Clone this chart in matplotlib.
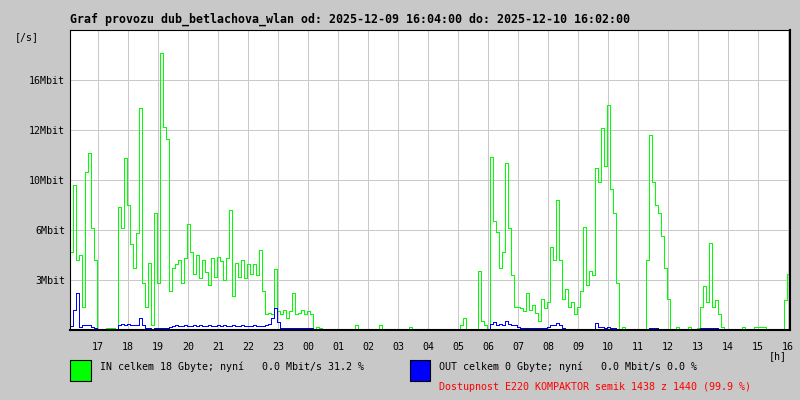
import numpy as np
import matplotlib.pyplot as plt
from matplotlib.patches import Rectangle

# prumer za 6 minut od 16:04, Mbit/s (jeden radek = 1 hodina)
in_mbit = [
    5.0, 9.3, 4.5, 4.8, 1.5, 10.1, 11.3, 6.5, 4.5, 0.0,
    0.0, 0.0, 0.1, 0.1, 0.1, 0.0, 7.9, 6.5, 11.0, 8.0,
    5.5, 4.0, 6.2, 14.2, 3.0, 1.5, 4.3, 0.3, 7.5, 3.0,
    17.7, 13.0, 12.2, 2.5, 4.0, 4.2, 4.5, 3.0, 4.6, 6.8,
    5.0, 3.6, 4.8, 3.3, 4.5, 3.7, 2.9, 4.6, 3.4, 4.7,
    4.4, 3.2, 4.6, 7.7, 2.2, 4.3, 3.4, 4.5, 3.3, 4.2,
    3.6, 4.2, 3.5, 5.1, 2.5, 1.0, 1.1, 1.0, 3.9, 1.2,
    1.0, 1.3, 0.8, 1.2, 2.4, 1.0, 1.1, 1.3, 1.0, 1.2,
    1.0, 0.0, 0.2, 0.1, 0.0, 0.0, 0.0, 0.0, 0.0, 0.0,
    0.0, 0.0, 0.0, 0.0, 0.0, 0.3, 0.0, 0.0, 0.0, 0.0,
    0.0, 0.0, 0.0, 0.3, 0.0, 0.0, 0.0, 0.0, 0.0, 0.0,
    0.0, 0.0, 0.0, 0.2, 0.0, 0.0, 0.0, 0.0, 0.0, 0.0,
    0.0, 0.0, 0.0, 0.0, 0.0, 0.0, 0.0, 0.0, 0.0, 0.0,
    0.3, 0.8, 0.0, 0.0, 0.0, 0.0, 3.8, 0.6, 0.3, 0.0,
    11.1, 7.0, 6.3, 4.0, 5.0, 10.7, 6.5, 3.5, 1.5, 1.5,
    1.4, 1.2, 2.4, 1.3, 1.6, 1.1, 0.6, 2.0, 1.4, 1.8,
    5.3, 4.5, 8.3, 4.5, 2.0, 2.6, 1.5, 1.8, 1.0, 1.5,
    2.5, 6.6, 2.9, 3.8, 3.5, 10.4, 9.5, 12.9, 10.5, 14.4,
    9.0, 7.5, 3.0, 0.0, 0.2, 0.0, 0.0, 0.0, 0.0, 0.0,
    0.0, 0.0, 4.5, 12.5, 9.5, 8.0, 7.5, 6.0, 4.0, 2.0,
    0.0, 0.0, 0.2, 0.0, 0.0, 0.0, 0.2, 0.0, 0.0, 0.1,
    1.5, 2.8, 1.8, 5.6, 1.5, 1.9, 1.0, 0.2, 0.0, 0.0,
    0.0, 0.0, 0.0, 0.0, 0.2, 0.0, 0.0, 0.0, 0.2, 0.2,
    0.2, 0.2, 0.0, 0.0, 0.0, 0.0, 0.0, 0.0, 1.9, 3.6,
]

out_mbit = [
    0.25, 1.3, 2.4, 0.2, 0.3, 0.35, 0.3, 0.2, 0.1, 0.0,
    0.0, 0.0, 0.0, 0.0, 0.0, 0.0, 0.3, 0.4, 0.3, 0.4,
    0.3, 0.3, 0.3, 0.8, 0.3, 0.1, 0.1, 0.0, 0.1, 0.1,
    0.1, 0.1, 0.1, 0.2, 0.25, 0.3, 0.25, 0.25, 0.3, 0.25,
    0.25, 0.3, 0.25, 0.3, 0.25, 0.25, 0.3, 0.25, 0.25, 0.3,
    0.25, 0.3, 0.25, 0.25, 0.3, 0.25, 0.25, 0.3, 0.25, 0.25,
    0.25, 0.3, 0.25, 0.25, 0.25, 0.3, 0.4, 0.8, 1.4, 0.5,
    0.1, 0.1, 0.1, 0.1, 0.1, 0.1, 0.1, 0.1, 0.1, 0.1,
    0.1, 0.0, 0.0, 0.0, 0.0, 0.0, 0.0, 0.0, 0.0, 0.0,
    0.0, 0.0, 0.0, 0.0, 0.0, 0.0, 0.0, 0.0, 0.0, 0.0,
    0.0, 0.0, 0.0, 0.0, 0.0, 0.0, 0.0, 0.0, 0.0, 0.0,
    0.0, 0.0, 0.0, 0.0, 0.0, 0.0, 0.0, 0.0, 0.0, 0.0,
    0.0, 0.0, 0.0, 0.0, 0.0, 0.0, 0.0, 0.0, 0.0, 0.0,
    0.0, 0.0, 0.0, 0.0, 0.0, 0.0, 0.0, 0.0, 0.0, 0.0,
    0.4, 0.5, 0.3, 0.4, 0.3, 0.6, 0.4, 0.3, 0.3, 0.2,
    0.1, 0.1, 0.1, 0.1, 0.1, 0.1, 0.1, 0.1, 0.1, 0.2,
    0.3, 0.3, 0.45, 0.3, 0.1, 0.0, 0.0, 0.0, 0.0, 0.0,
    0.0, 0.0, 0.0, 0.0, 0.0, 0.45, 0.2, 0.2, 0.1, 0.2,
    0.1, 0.1, 0.0, 0.0, 0.0, 0.0, 0.0, 0.0, 0.0, 0.0,
    0.0, 0.0, 0.0, 0.1, 0.1, 0.1, 0.0, 0.0, 0.0, 0.0,
    0.0, 0.0, 0.0, 0.0, 0.0, 0.0, 0.0, 0.0, 0.0, 0.0,
    0.1, 0.15, 0.1, 0.15, 0.1, 0.1, 0.0, 0.0, 0.0, 0.0,
    0.0, 0.0, 0.0, 0.0, 0.0, 0.0, 0.0, 0.0, 0.0, 0.0,
    0.0, 0.0, 0.0, 0.0, 0.0, 0.0, 0.0, 0.0, 0.0, 0.0,
]

hour_ticks = list(range(17, 41))
hour_labels = [f"{h % 24:02d}" for h in hour_ticks]
ytick_vals = [3.2, 6.4, 9.6, 12.8, 16.0]
ytick_labels = ["3Mbit", "6Mbit", "10Mbit", "12Mbit", "16Mbit"]

title = "Graf provozu dub_betlachova_wlan od: 2025-12-09 16:04:00 do: 2025-12-10 16:02:00"
in_text = "IN celkem 18 Gbyte; nyní   0.0 Mbit/s 31.2 %"
out_text = "OUT celkem 0 Gbyte; nyní   0.0 Mbit/s 0.0 %"
avail_text = "Dostupnost E220 KOMPAKTOR semik 1438 z 1440 (99.9 %)"

bg = "#c8c8c8"
green = "#00ff00"
blue = "#0000ff"
mono = "DejaVu Sans Mono"

start = 16 + 4 / 60
t = start + 0.1 * np.arange(len(in_mbit) + 1)
in_y = np.append(in_mbit, in_mbit[-1])
out_y = np.append(out_mbit, out_mbit[-1])

W, H = 800, 400
fig = plt.figure(figsize=(8, 4), dpi=100, facecolor=bg)
ax = fig.add_axes([70 / W, 70 / H, 720 / W, 300 / H])
ax.set_facecolor("white")

ax.plot(t, in_y, drawstyle="steps-post", color=green, lw=0.6, antialiased=False, zorder=2)
ax.plot(t, out_y, drawstyle="steps-post", color=blue, lw=0.6, antialiased=False, zorder=2.1)

ax.set_xlim(start, start + 24)
ax.set_ylim(0, 19.2)
ax.set_xticks(hour_ticks)
ax.set_xticklabels(hour_labels, family=mono, fontsize=7.2)
ax.set_yticks(ytick_vals)
ax.set_yticklabels(ytick_labels, family=mono, fontsize=7.2)
ax.tick_params(axis="x", length=0, pad=9)
ax.tick_params(axis="y", length=0, pad=3.5)
ax.grid(color="#c8c8c8", lw=0.7)
ax.set_axisbelow(True)

for side in ["left", "top"]:
    ax.spines[side].set_linewidth(0.8)
for side in ["right", "bottom"]:
    ax.spines[side].set_linewidth(1.5)

def fx(px):
    return px / W

def fy(py):
    return 1 - py / H

fig.text(fx(70), fy(19), title, family=mono, fontweight="bold", fontsize=8.4, va="center")
fig.text(fx(15), fy(37), "[/s]", family=mono, fontsize=7.2, va="center")
fig.text(fx(787), fy(356), "[h]", family=mono, fontsize=7.2, va="center", ha="right")

fig.add_artist(Rectangle((fx(70), fy(380.5)), 20.5 / W, 20.5 / H, transform=fig.transFigure,
                         facecolor=green, edgecolor="black", lw=0.8))
fig.add_artist(Rectangle((fx(410), fy(380.5)), 20.5 / W, 20.5 / H, transform=fig.transFigure,
                         facecolor=blue, edgecolor="black", lw=0.8))
fig.text(fx(100), fy(367), in_text, family=mono, fontsize=7.2, va="center")
fig.text(fx(439), fy(367), out_text, family=mono, fontsize=7.2, va="center")
fig.text(fx(439), fy(387), avail_text, family=mono, fontsize=7.2, va="center", color="red")

fig.savefig("out.png", dpi=100, facecolor=bg)
